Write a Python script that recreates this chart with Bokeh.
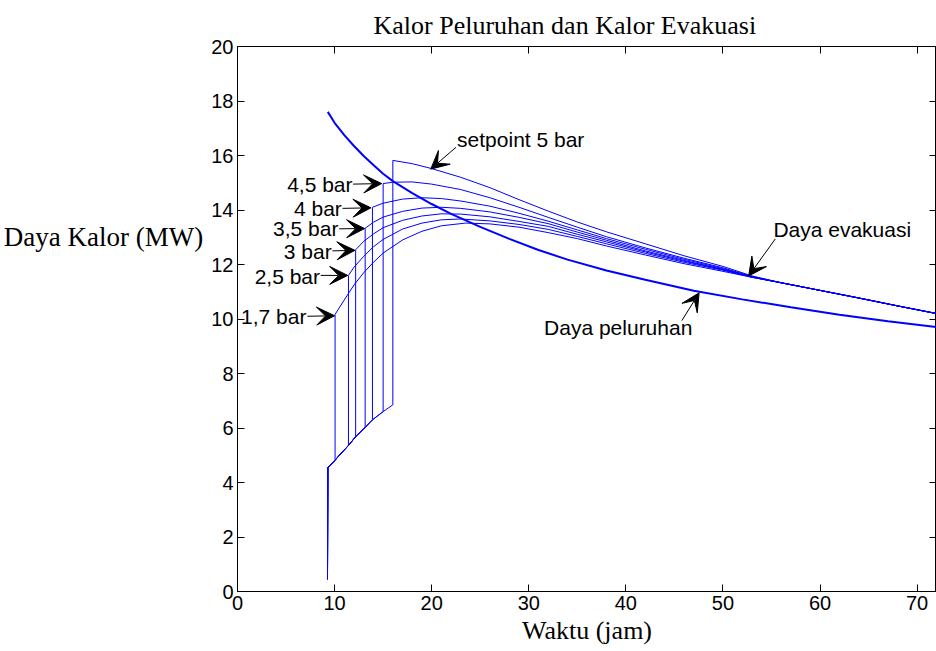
from bokeh.plotting import figure
from bokeh.models import Range1d, FixedTicker, LinearAxis, Label, Arrow, VeeHead, ColumnDataSource
from bokeh.embed import file_html
from bokeh.resources import INLINE

# ---------------- data ----------------
title_text = "Kalor Peluruhan dan Kalor Evakuasi"
x_label = "Waktu (jam)"
y_label = "Daya Kalor (MW)"
x_ticks = [0, 10, 20, 30, 40, 50, 60, 70]
y_ticks = [0, 2, 4, 6, 8, 10, 12, 14, 16, 18, 20]

# decay heat ("Daya peluruhan")
decay_t = [9.3, 10, 11, 12, 13, 14, 15, 16, 18, 20, 22, 25, 28, 31, 34, 38, 42, 47, 52, 57, 62, 67, 72]
decay_y = [17.6, 17.2, 16.75, 16.35, 15.98, 15.65, 15.33, 15.06, 14.62, 14.22, 13.86, 13.38, 12.94,
           12.53, 12.18, 11.78, 11.44, 11.04, 10.72, 10.43, 10.16, 9.92, 9.70]

# common start of evacuation power
start_t = [9.27]
start_y = [0.45]
lower_t = [9.30, 9.6, 10.05, 10.7, 11.43, 12.17, 13.15, 13.9, 15.0, 16.0]
lower_y = [4.55, 4.65, 4.82, 5.08, 5.36, 5.68, 6.02, 6.30, 6.60, 6.85]

setpoints = ["1,7 bar", "2,5 bar", "3 bar", "3,5 bar", "4 bar", "4,5 bar", "setpoint 5 bar"]
switch_t = [10.05, 11.43, 12.17, 13.15, 13.9, 15.0, 16.0]

b17_t = [10.05, 11, 12, 13, 14, 15, 17, 19, 21, 23.5, 26, 29, 32, 35, 38, 42, 46, 50, 53]
b17_y = [10.17, 10.7, 11.25, 11.7, 12.08, 12.42, 12.9, 13.22, 13.42, 13.52, 13.49, 13.37, 13.17, 12.95,
         12.68, 12.35, 12.03, 11.75, 11.53]
b25_t = [11.43, 12, 13, 14, 15, 17, 19, 21, 23, 26, 29, 32, 35, 38, 42, 46, 50, 53]
b25_y = [11.6, 11.9, 12.3, 12.65, 12.92, 13.3, 13.52, 13.64, 13.67, 13.6, 13.47, 13.29, 13.03, 12.76,
         12.41, 12.08, 11.79, 11.53]
b30_t = [12.17, 13, 14, 15, 17, 19, 21, 23, 26, 29, 32, 35, 38, 42, 46, 50, 53]
b30_y = [12.54, 12.85, 13.12, 13.35, 13.62, 13.78, 13.86, 13.85, 13.75, 13.58, 13.4, 13.11, 12.83,
         12.46, 12.12, 11.81, 11.54]
b35_t = [13.15, 14, 15, 17, 19, 21, 23, 26, 29, 32, 35, 38, 42, 46, 50, 53]
b35_y = [13.33, 13.55, 13.74, 13.95, 14.07, 14.1, 14.06, 13.93, 13.73, 13.5, 13.19, 12.89, 12.5,
         12.15, 11.82, 11.54]
b40_t = [13.9, 15, 17, 19, 21, 23, 26, 29, 32, 35, 38, 42, 46, 50, 53]
b40_y = [14.1, 14.25, 14.4, 14.45, 14.42, 14.33, 14.14, 13.88, 13.59, 13.27, 12.95, 12.56, 12.19,
         11.85, 11.55]
b45_t = [15.0, 16, 18, 20, 23, 26, 29, 32, 35, 38, 42, 46, 50, 53]
b45_y = [14.97, 15.02, 15.03, 14.95, 14.75, 14.45, 14.1, 13.73, 13.37, 13.02, 12.61, 12.23, 11.88, 11.56]
b50_t = [16.0, 18, 20, 23, 26, 29, 32, 35, 38, 42, 46, 50, 53]
b50_y = [15.82, 15.7, 15.52, 15.2, 14.82, 14.38, 13.96, 13.56, 13.2, 12.76, 12.32, 11.93, 11.58]

tail_t = [56, 60, 64, 68, 72]
tail_y = [11.33, 11.05, 10.77, 10.48, 10.2]

branch_t = [b17_t, b25_t, b30_t, b35_t, b40_t, b45_t, b50_t]
branch_y = [b17_y, b25_y, b30_y, b35_y, b40_y, b45_y, b50_y]

# annotation anchors (data coordinates): text position, arrow tail, arrow tip
ann_text_x = [7.1, 8.5, 9.7, 10.4, 10.75, 11.85, 22.62, 55.2, 46.85]
ann_text_y = [10.08, 11.57, 12.49, 13.32, 14.06, 14.92, 16.6, 13.3, 9.7]
ann_align = ["right", "right", "right", "right", "right", "right", "left", "left", "right"]
ann_labels = setpoints + ["Daya evakuasi", "Daya peluruhan"]
arr_x0 = [7.2, 8.57, 9.78, 10.47, 10.82, 11.9, 22.5, 55.4, 45.77]
arr_y0 = [10.1, 11.6, 12.5, 13.31, 14.06, 14.95, 16.3, 12.94, 9.94]
arr_x1 = [10.0, 11.35, 12.1, 13.1, 13.75, 14.85, 19.9, 52.65, 47.55]
arr_y1 = [10.12, 11.6, 12.52, 13.32, 14.08, 14.97, 15.5, 11.58, 10.96]

# ---------------- figure ----------------
SERIF = "Liberation Serif"
SANS = "Liberation Sans"
BLUE = "#0000ff"

p = figure(width=936, height=651, x_range=Range1d(0, 72), y_range=Range1d(0, 20),
           output_backend="svg", toolbar_location=None,
           min_border_left=237, min_border_right=0, min_border_top=46, min_border_bottom=60)
p.grid.visible = False
p.outline_line_color = "black"
p.outline_line_width = 1
p.background_fill_color = "white"
p.border_fill_color = "white"

p.title.text = title_text
p.title.text_font = SERIF
p.title.text_font_size = "26px"
p.title.text_font_style = "normal"
p.title.text_color = "black"
p.title.align = "left"
p.title.offset = 136
p.title.standoff = 13

def style_axis(ax, ticks, show_labels=True):
    ax.ticker = FixedTicker(ticks=ticks)
    ax.major_tick_in = 7
    ax.major_tick_out = 0
    ax.minor_tick_in = 0
    ax.minor_tick_out = 0
    ax.axis_line_color = "black"
    ax.major_tick_line_color = "black"
    ax.major_label_text_font = SANS
    ax.major_label_text_font_size = "20px"
    ax.major_label_text_color = "black"
    if not show_labels:
        ax.major_label_overrides = {t: "" for t in ticks}
        ax.major_label_standoff = 0
        ax.major_label_text_font_size = "0px"

style_axis(p.xaxis[0], x_ticks)
style_axis(p.yaxis[0], y_ticks)
p.xaxis[0].major_label_standoff = 4
p.yaxis[0].major_label_standoff = 4
p.xaxis[0].axis_label = x_label
p.xaxis[0].axis_label_text_font = SERIF
p.xaxis[0].axis_label_text_font_size = "26px"
p.xaxis[0].axis_label_text_font_style = "normal"
p.xaxis[0].axis_label_standoff = 3
p.xaxis[0].axis_label_text_color = "black"

yax = p.yaxis[0]
try:
    yax.axis_label_orientation = "horizontal"
    # trailing blank lines lift the (centred) label block to the reference height
    yax.axis_label = y_label + "\n\u00a0" * 5
    yax.axis_label_text_font = SERIF
    yax.axis_label_text_font_size = "27px"
    yax.axis_label_text_line_height = 1.1
    yax.axis_label_text_font_style = "normal"
    yax.axis_label_text_color = "black"
    yax.axis_label_standoff = 5
except Exception:
    p.add_layout(Label(x=-23.58, y=12.99, text=y_label, text_align="left", text_baseline="middle",
                       text_font=SERIF, text_font_size="26px", text_color="black"))

top_axis = LinearAxis()
style_axis(top_axis, x_ticks, show_labels=False)
p.add_layout(top_axis, "above")
right_axis = LinearAxis()
style_axis(right_axis, y_ticks, show_labels=False)
p.add_layout(right_axis, "right")

# evacuation curves
xs, ys = [], []
for sw, bt, by in zip(switch_t, branch_t, branch_y):
    lx = [t for t in lower_t if t <= sw]
    ly = [y for t, y in zip(lower_t, lower_y) if t <= sw]
    xs.append(start_t + lx + bt + tail_t)
    ys.append(start_y + ly + by + tail_y)
p.multi_line(xs="xs", ys="ys", source=ColumnDataSource(dict(xs=xs, ys=ys)),
             line_color=BLUE, line_width=1)

# decay curve
p.line(decay_t, decay_y, line_color=BLUE, line_width=2)

# annotations
for tx, ty, al, lab in zip(ann_text_x, ann_text_y, ann_align, ann_labels):
    p.add_layout(Label(x=tx, y=ty, text=lab, text_align=al, text_baseline="middle",
                       text_font=SANS, text_font_size="21px", text_color="black"))
for x0, y0, x1, y1 in zip(arr_x0, arr_y0, arr_x1, arr_y1):
    p.add_layout(Arrow(x_start=x0, y_start=y0, x_end=x1, y_end=y1, line_color="black", line_width=1,
                       end=VeeHead(size=18, fill_color="black", line_color="black")))

open("out.html", "w").write(file_html(p, INLINE))
